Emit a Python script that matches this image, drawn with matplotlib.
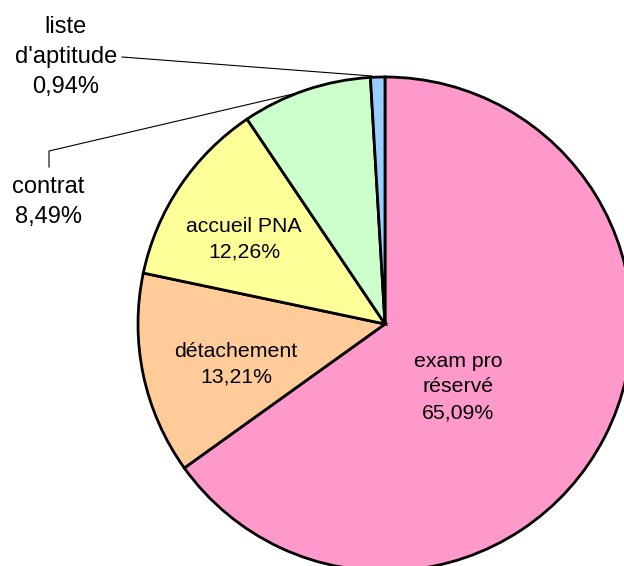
import matplotlib
matplotlib.use("Agg")
import matplotlib.pyplot as plt

categories = ["exam pro\nréservé", "détachement", "accueil PNA", "contrat", "liste\nd'aptitude"]
values = [65.09, 13.21, 12.26, 8.49, 0.94]
colors = ["#FF99CC", "#FFCC99", "#FFFF99", "#CCFFCC", "#99CCFF"]

W, H = 624, 566
fig = plt.figure(figsize=(W / 100, H / 100), dpi=100)
ax = fig.add_axes([0, 0, 1, 1])

cx, cy, r = 385, H - 324, 247
ax.pie(values, colors=colors, startangle=90, counterclock=False,
       center=(cx, cy), radius=r, frame=True,
       wedgeprops=dict(edgecolor="black", linewidth=2))
ax.set_xlim(0, W)
ax.set_ylim(0, H)
ax.axis("off")

def fmt(v):
    return f"{v:.2f}%".replace(".", ",")

base = dict(family=["Liberation Sans", "DejaVu Sans"], color="black",
            ha="center", va="center", linespacing=1.45)

# inside labels (pixel positions from top)
inside = {0: (458, 387), 1: (236, 364), 2: (244, 239)}
for i, (px, py) in inside.items():
    ax.text(px, H - py, f"{categories[i]}\n{fmt(values[i])}", fontsize=15.3, **base)

# outside labels
ax.text(48, H - 202, f"{categories[3]}\n{fmt(values[3])}", fontsize=17, **base)
ax.text(66, H - 57, f"{categories[4]}\n{fmt(values[4])}", fontsize=17, **base)

# leader lines
ax.plot([122, 372], [H - 57, H - 76], color="black", lw=0.8)
ax.plot([49, 49, 293], [H - 167, H - 151, H - 94], color="black", lw=0.8)

fig.savefig("out.png", dpi=100)
